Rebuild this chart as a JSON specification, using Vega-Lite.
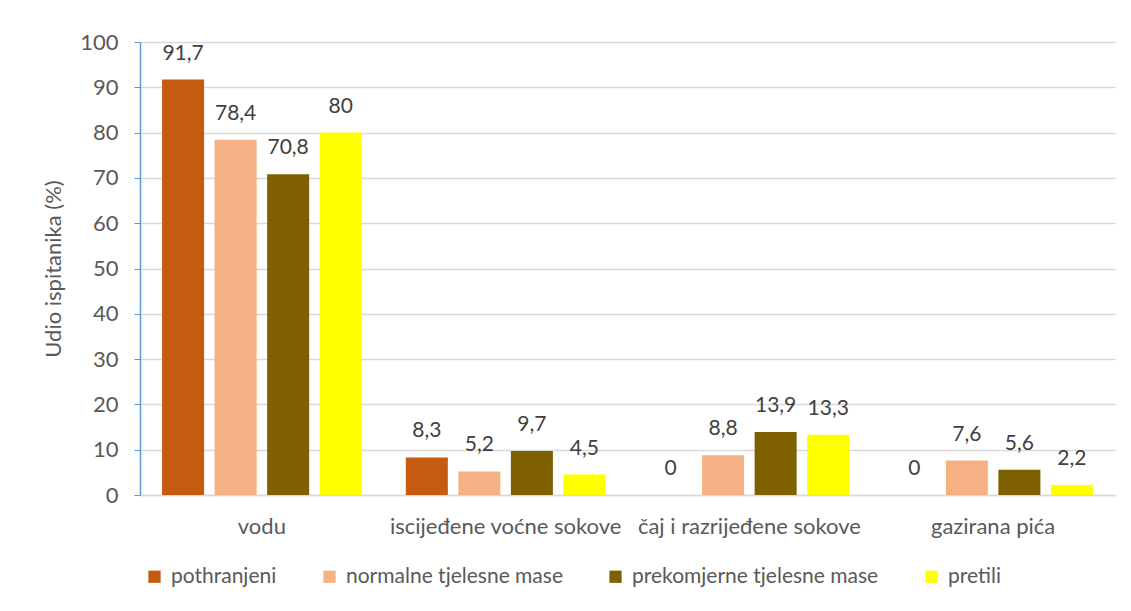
{
  "$schema": "https://vega.github.io/schema/vega-lite/v6.json",
  "width": 975,
  "height": 453,
  "autosize": "none",
  "padding": {"left": 140, "top": 42, "right": 16, "bottom": 116},
  "background": "white",
  "config": {
    "font": "Lato",
    "view": {"stroke": null}
  },
  "data": {
    "values": [
      {"kat": "vodu", "grupa": "pothranjeni", "v": 91.7, "lbl": "91,7"},
      {"kat": "vodu", "grupa": "normalne tjelesne mase", "v": 78.4, "lbl": "78,4"},
      {"kat": "vodu", "grupa": "prekomjerne tjelesne mase", "v": 70.8, "lbl": "70,8"},
      {"kat": "vodu", "grupa": "pretili", "v": 80, "lbl": "80"},
      {"kat": "iscijeđene voćne sokove", "grupa": "pothranjeni", "v": 8.3, "lbl": "8,3"},
      {"kat": "iscijeđene voćne sokove", "grupa": "normalne tjelesne mase", "v": 5.2, "lbl": "5,2"},
      {"kat": "iscijeđene voćne sokove", "grupa": "prekomjerne tjelesne mase", "v": 9.7, "lbl": "9,7"},
      {"kat": "iscijeđene voćne sokove", "grupa": "pretili", "v": 4.5, "lbl": "4,5"},
      {"kat": "čaj i razrijeđene sokove", "grupa": "pothranjeni", "v": 0, "lbl": "0"},
      {"kat": "čaj i razrijeđene sokove", "grupa": "normalne tjelesne mase", "v": 8.8, "lbl": "8,8"},
      {"kat": "čaj i razrijeđene sokove", "grupa": "prekomjerne tjelesne mase", "v": 13.9, "lbl": "13,9"},
      {"kat": "čaj i razrijeđene sokove", "grupa": "pretili", "v": 13.3, "lbl": "13,3"},
      {"kat": "gazirana pića", "grupa": "pothranjeni", "v": 0, "lbl": "0"},
      {"kat": "gazirana pića", "grupa": "normalne tjelesne mase", "v": 7.6, "lbl": "7,6"},
      {"kat": "gazirana pića", "grupa": "prekomjerne tjelesne mase", "v": 5.6, "lbl": "5,6"},
      {"kat": "gazirana pića", "grupa": "pretili", "v": 2.2, "lbl": "2,2"}
    ]
  },
  "encoding": {
    "x": {
      "field": "kat", "type": "nominal", "sort": null,
      "scale": {"paddingInner": 0, "paddingOuter": 0},
      "axis": {
        "title": null, "labelAngle": 0, "labelFontSize": 22, "labelColor": "#595959",
        "labelPadding": 21, "labelLimit": 400, "ticks": false, "domainColor": "#D9D9D9", "domainWidth": 1.5
      }
    },
    "xOffset": {
      "field": "grupa", "type": "nominal", "sort": null,
      "scale": {"paddingInner": 0.2, "paddingOuter": 0.42}
    },
    "y": {
      "field": "v", "type": "quantitative",
      "scale": {"domain": [0, 100]},
      "axis": {
        "title": "Udio ispitanika (%)", "titleFontSize": 22, "titleFontWeight": "normal",
        "titleColor": "#595959", "titlePadding": 14,
        "values": [0, 10, 20, 30, 40, 50, 60, 70, 80, 90, 100],
        "labelFontSize": 22, "labelColor": "#595959", "labelPadding": 16,
        "tickColor": "#5B9BD5", "tickSize": 6, "domainColor": "#5B9BD5", "domainWidth": 1.5,
        "gridColor": "#D9D9D9", "gridWidth": 1.5
      }
    }
  },
  "layer": [
    {
      "mark": {"type": "bar"},
      "encoding": {
        "color": {
          "field": "grupa", "type": "nominal", "sort": null,
          "scale": {
            "domain": ["pothranjeni", "normalne tjelesne mase", "prekomjerne tjelesne mase", "pretili"],
            "range": ["#C55A11", "#F4B183", "#7F6000", "#FFFF00"]
          },
          "legend": {
            "title": null, "orient": "none", "direction": "horizontal",
            "legendX": 4, "legendY": 524,
            "symbolType": "square", "symbolSize": 150, "symbolStrokeWidth": 0,
            "labelFontSize": 21, "labelColor": "#595959", "labelLimit": 400, "columnPadding": 42,
            "labelOffset": 6
          }
        }
      }
    },
    {
      "mark": {"type": "text", "baseline": "bottom", "dy": -16, "fontSize": 21, "color": "#404040"},
      "encoding": {"text": {"field": "lbl"}}
    }
  ]
}
